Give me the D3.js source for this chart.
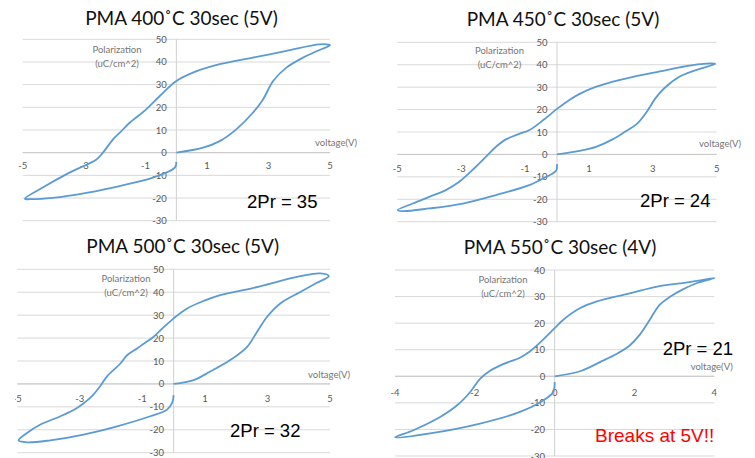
<!DOCTYPE html>
<html><head><meta charset="utf-8">
<script src="https://cdn.jsdelivr.net/npm/d3@7"></script>
<style>
body{margin:0;background:#fff;}
svg{display:block;}
</style></head>
<body>
<svg id="chart" width="755" height="458"></svg>
<script>
// ---- data (voltage V, polarization uC/cm^2) ----
const titles = ["PMA 400˚C 30sec (5V)", "PMA 450˚C 30sec (5V)", "PMA 500˚C 30sec (5V)", "PMA 550˚C 30sec (4V)"];
const prLabels = ["2Pr = 35", "2Pr = 24", "2Pr = 32", "2Pr = 21"];
const xTicks5 = [-5, -3, -1, 1, 3, 5];
const xTicks4 = [-4, -2, 0, 2, 4];
const yTicks50 = [-30, -20, -10, 0, 10, 20, 30, 40, 50];
const yTicks40 = [-30, -20, -10, 0, 10, 20, 30, 40];
const loop400 = [[0,0],[0.87,2.2],[1.41,5.1],[1.95,10.3],[2.49,17.6],[2.82,23.5],[3.15,31.6],[3.58,37.5],[4.12,41.9],[4.66,45.3],[5,47.4],
  [4.66,47.8],[3.58,44.9],[2.49,41.9],[1.41,39],[0.54,35.3],[0,31.6],[-0.54,25],[-0.98,19.1],[-1.52,13.2],[-1.84,8.8],[-2.06,5.9],[-2.39,0],[-2.6,-3],[-3.48,-8.8],[-4.35,-15.4],[-4.93,-20.3],
  [-4.7,-20.5],[-4.02,-19.9],[-2.93,-17.7],[-1.85,-14.7],[-0.76,-11],[-0.05,-6.6],[0,-4.1]];
const loop450 = [[0,0],[0.7,1.6],[1.22,3.4],[1.74,6.7],[2.15,10.3],[2.5,13.6],[2.8,18.8],[3.08,25],[3.35,29.4],[3.83,34.6],[4.35,37.6],[4.95,40.4],
  [4.5,40.3],[3.83,38.8],[3.22,37],[2.28,34.3],[1.75,32.5],[1.23,30.2],[0.71,27],[0.4,24.4],[0,20.3],[-0.44,15.2],[-0.86,10.9],[-1.18,9.2],[-1.6,6.7],[-1.91,3.4],[-2.22,-1],[-2.54,-5.5],[-3.06,-12.2],[-3.48,-15.9],[-4.0,-18.9],[-4.52,-21.9],[-4.99,-24.8],
  [-4.85,-25.3],[-4.0,-24.1],[-2.95,-21.9],[-1.91,-18.1],[-0.87,-13.7],[-0.34,-10],[-0.03,-7.3],[0,-4.3]];
const loop500 = [[0,0],[0.64,1.7],[1.17,5.4],[1.81,10.4],[2.35,16.2],[2.67,22.8],[2.99,29.3],[3.41,35.1],[4.05,40.1],[4.58,44.1],[4.96,47],
  [4.69,48.2],[4.05,47],[2.56,41.9],[1.49,38.7],[0.96,36.2],[0.43,32.9],[0,28.6],[-0.43,23.3],[-0.64,20.6],[-0.96,17.5],[-1.17,15.5],[-1.49,12.5],[-1.71,8.8],[-2.13,3.3],[-2.35,-1],[-2.67,-6.1],[-3.09,-10.5],[-3.62,-14.1],[-4.26,-17.7],[-4.69,-21.4],[-4.96,-24.6],
  [-4.69,-25.5],[-3.94,-24.6],[-2.88,-22.1],[-1.81,-18.5],[-0.75,-14.1],[-0.21,-11.2],[-0.05,-8.3],[0,-4.9]];
const loop550 = [[0,0],[0.64,1.9],[1.17,5.6],[1.55,8.4],[1.88,11.6],[2.13,15.6],[2.38,21.2],[2.63,26.9],[2.9,30],[3.2,32.6],[3.57,35.1],[4.01,37],
  [3.57,35.9],[3.15,35],[2.63,33.9],[1.88,31.2],[1.04,28.1],[0.63,25.6],[0.21,21.2],[0,18.1],[-0.38,12.5],[-0.63,9.2],[-0.87,7],[-1.29,4.6],[-1.62,2.1],[-1.87,-1],[-2.12,-6],[-2.45,-11],[-2.87,-15.3],[-3.54,-20.3],[-4,-23],
  [-3.12,-21.5],[-1.87,-17.8],[-0.87,-13.4],[-0.29,-9.1],[-0.04,-6],[0,-2.2]];

// ---- layout per panel ----
const panels = [
  {data: loop400, xDom:[-5,5], yDom:[-30,50], xR:[22.7,330], yR:[220.7,39.3], xTicks:xTicks5, yTicks:yTicks50,
   title:[181.5,25], pr:[247,208], polar:[117,52.7], volt:[315,145.7], clip:[0,0,358,230], tickDy:16.5},
  {data: loop450, xDom:[-5,5], yDom:[-30,50], xR:[397.3,716.7], yR:[221.7,42.3], xTicks:xTicks5, yTicks:yTicks50,
   title:[563,26], pr:[640,206.7], polar:[499.5,54.3], volt:[699,146.7], clip:[380,0,375,230], tickDy:17.5},
  {data: loop500, xDom:[-5,5], yDom:[-30,50], xR:[17.3,330], yR:[452.7,269.3], xTicks:xTicks5, yTicks:yTicks50,
   title:[182.7,253.3], pr:[230,436.7], polar:[126,281.7], volt:[308,377.7], clip:[15,230,365,228], tickDy:18},
  {data: loop550, xDom:[-4,4], yDom:[-30,40], xR:[395,714.3], yR:[456,270], xTicks:xTicks4, yTicks:yTicks40,
   title:[560,254], pr:[662.7,355], polar:[503,283.3], volt:[690.7,370], clip:[380,230,375,228], tickDy:19.5}
];

const svg = d3.select("#chart");
const defs = svg.append("defs");
const fontUI = "Lato, 'Open Sans', sans-serif";

panels.forEach((p, i) => {
  defs.append("clipPath").attr("id", "clip" + i).append("rect")
    .attr("x", p.clip[0]).attr("y", p.clip[1]).attr("width", p.clip[2]).attr("height", p.clip[3]);
  const g = svg.append("g").attr("clip-path", `url(#clip${i})`);
  const x = d3.scaleLinear().domain(p.xDom).range(p.xR);
  const y = d3.scaleLinear().domain(p.yDom).range(p.yR);

  // horizontal gridlines
  g.append("g").selectAll("line").data(p.yTicks).join("line")
    .attr("x1", p.xR[0]).attr("x2", p.xR[1])
    .attr("y1", d => y(d)).attr("y2", d => y(d))
    .attr("stroke", "#d9d9d9").attr("stroke-width", 1);
  // vertical axis at x=0
  g.append("line").attr("x1", x(0)).attr("x2", x(0)).attr("y1", y(p.yDom[0])).attr("y2", y(p.yDom[1]))
    .attr("stroke", "#d0d0d0").attr("stroke-width", 1);
  // horizontal axis at y=0
  g.append("line").attr("x1", p.xR[0]).attr("x2", p.xR[1]).attr("y1", y(0)).attr("y2", y(0))
    .attr("stroke", "#c8c8c8").attr("stroke-width", 1);

  // y tick labels
  g.append("g").selectAll("text").data(p.yTicks).join("text")
    .attr("x", x(0) - 9.5).attr("y", d => y(d) + 3.5)
    .attr("text-anchor", "end").attr("font-family", fontUI).attr("font-size", 9.5)
    .attr("fill", "#595959").text(d => d);
  // x tick labels
  g.append("g").selectAll("text").data(p.xTicks).join("text")
    .attr("x", d => x(d)).attr("y", y(0) + p.tickDy)
    .attr("text-anchor", "middle").attr("font-family", fontUI).attr("font-size", 9.5)
    .attr("fill", "#595959").text(d => d);

  // axis titles
  const pt = g.append("text").attr("font-family", fontUI).attr("font-size", 9.5).attr("fill", "#757575")
    .attr("text-anchor", "middle");
  pt.append("tspan").attr("x", p.polar[0]).attr("y", p.polar[1]).text("Polarization");
  pt.append("tspan").attr("x", p.polar[0]).attr("y", p.polar[1] + 14).text("(uC/cm^2)");
  g.append("text").attr("x", p.volt[0]).attr("y", p.volt[1]).attr("font-family", fontUI)
    .attr("font-size", 9.5).attr("fill", "#757575").text("voltage(V)");

  // loop
  const line = d3.line().x(d => x(d[0])).y(d => y(d[1])).curve(d3.curveCatmullRom.alpha(0.5));
  g.append("path").datum(p.data).attr("d", line).attr("fill", "none")
    .attr("stroke", "#5b9bd5").attr("stroke-width", 1.8).attr("stroke-linejoin", "round");

  // title
  svg.append("text").attr("x", p.title[0]).attr("y", p.title[1]).attr("text-anchor", "middle")
    .attr("font-family", fontUI).attr("font-size", 19).attr("fill", "#111").text(titles[i]);
  // 2Pr
  svg.append("text").attr("x", p.pr[0]).attr("y", p.pr[1])
    .attr("font-family", "'Liberation Sans', Arial, sans-serif").attr("font-size", 18.5).attr("fill", "#000").text(prLabels[i]);
});

svg.append("text").attr("x", 595).attr("y", 442.3)
  .attr("font-family", "'Liberation Sans', Arial, sans-serif").attr("font-size", 19).attr("fill", "#ff0000").text("Breaks at 5V!!");
</script>
</body></html>
